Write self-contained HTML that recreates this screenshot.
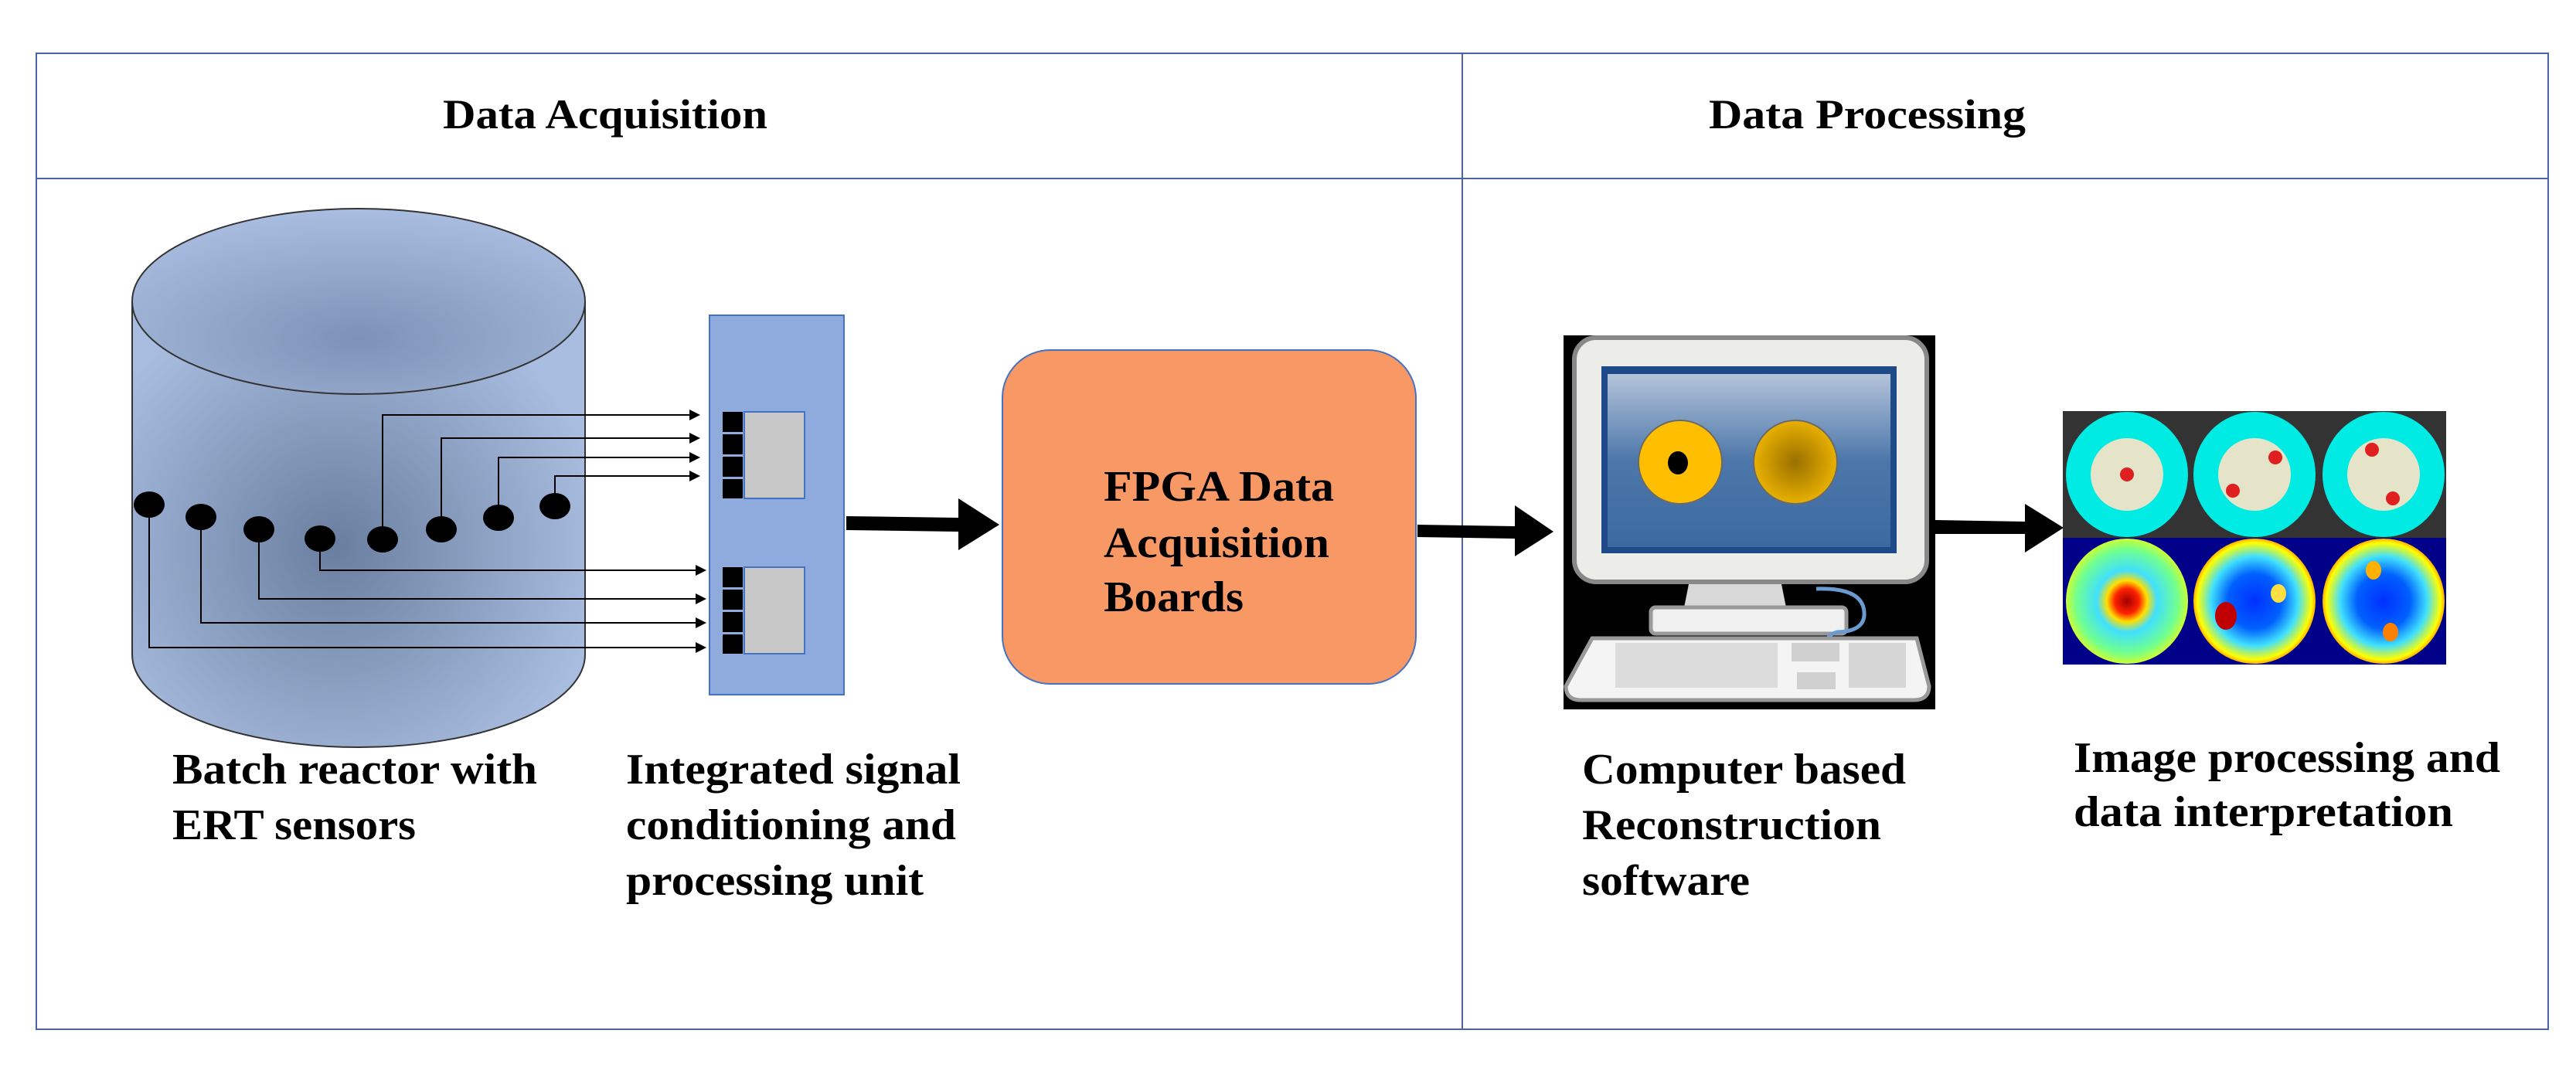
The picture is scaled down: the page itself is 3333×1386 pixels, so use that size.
<!DOCTYPE html>
<html><head><meta charset="utf-8"><style>html,body{margin:0;padding:0;background:#fff}svg{display:block}</style></head>
<body>
<svg width="3333" height="1386" viewBox="0 0 3333 1386" xmlns="http://www.w3.org/2000/svg" font-family="Liberation Serif, serif" font-weight="bold">
<defs>
<radialGradient id="cyl" cx="0.45" cy="0.55" r="0.6"><stop offset="0" stop-color="#6a7fa0"/><stop offset="1" stop-color="#a9bde0"/></radialGradient>
<radialGradient id="cylt" cx="0.5" cy="0.7" r="0.7"><stop offset="0" stop-color="#7d92b6"/><stop offset="1" stop-color="#a9bde0"/></radialGradient>
<linearGradient id="scr" x1="0" y1="0" x2="0" y2="1"><stop offset="0" stop-color="#b4c4da"/><stop offset="0.5" stop-color="#4c77aa"/><stop offset="1" stop-color="#3c6aa0"/></linearGradient>
<radialGradient id="y2"><stop offset="0" stop-color="#9a7000"/><stop offset="1" stop-color="#e8b000"/></radialGradient>
<radialGradient id="h1" cx="0.5" cy="0.5" r="0.55"><stop offset="0" stop-color="#a00000"/><stop offset="0.18" stop-color="#ff2000"/><stop offset="0.3" stop-color="#ffe000"/><stop offset="0.45" stop-color="#40e0ff"/><stop offset="0.75" stop-color="#70ff90"/><stop offset="1" stop-color="#ffff00"/></radialGradient>
<radialGradient id="h2" cx="0.5" cy="0.5" r="0.55"><stop offset="0" stop-color="#0030ff"/><stop offset="0.4" stop-color="#0060ff"/><stop offset="0.65" stop-color="#40e0ff"/><stop offset="0.85" stop-color="#ffff00"/><stop offset="1" stop-color="#ff3000"/></radialGradient>
</defs>
<rect x="47" y="69" width="3250" height="1263" fill="none" stroke="#4a62a8" stroke-width="2"/>
<line x1="47" y1="231" x2="3297" y2="231" stroke="#4a62a8" stroke-width="2"/>
<line x1="1892" y1="69" x2="1892" y2="1332" stroke="#4a62a8" stroke-width="2"/>
<g font-size="54" fill="#000">
<text x="573" y="166" textLength="420" lengthAdjust="spacingAndGlyphs">Data Acquisition</text>
<text x="2211" y="166" textLength="410" lengthAdjust="spacingAndGlyphs">Data Processing</text>
</g>
<!-- cylinder -->
<path d="M171 390 L171 847 A293 120 0 0 0 757 847 L757 390 Z" fill="url(#cyl)" stroke="#333" stroke-width="2"/>
<ellipse cx="464" cy="390" rx="293" ry="120" fill="url(#cylt)" stroke="#333" stroke-width="2"/>
<!-- panel -->
<rect x="918" y="408" width="174" height="491" fill="#8faadc" stroke="#4472c4" stroke-width="2"/>
<rect x="963" y="533" width="78" height="112" fill="#c8c8c8" stroke="#4472c4" stroke-width="2"/>
<rect x="963" y="734" width="78" height="112" fill="#c8c8c8" stroke="#4472c4" stroke-width="2"/>
<g fill="#000">
<rect x="935" y="533" width="26" height="26"/><rect x="935" y="562" width="26" height="26"/><rect x="935" y="591" width="26" height="26"/><rect x="935" y="620" width="26" height="25"/>
<rect x="935" y="734" width="26" height="26"/><rect x="935" y="763" width="26" height="26"/><rect x="935" y="792" width="26" height="26"/><rect x="935" y="821" width="26" height="25"/>
</g>
<!-- wires -->
<g fill="none" stroke="#000" stroke-width="2">
<path d="M495 698 V537 H900"/><path d="M571 685 V567 H900"/><path d="M645 670 V592 H900"/><path d="M718 655 V616 H900"/>
<path d="M414 697 V738 H908"/><path d="M335 685 V775 H908"/><path d="M260 669 V806 H908"/><path d="M193 653 V838 H908"/>
</g>
<g fill="#000">
<path d="M906 537 l-14 -7 v14z"/><path d="M906 567 l-14 -7 v14z"/><path d="M906 592 l-14 -7 v14z"/><path d="M906 616 l-14 -7 v14z"/>
<path d="M914 738 l-14 -7 v14z"/><path d="M914 775 l-14 -7 v14z"/><path d="M914 806 l-14 -7 v14z"/><path d="M914 838 l-14 -7 v14z"/>
<ellipse cx="193" cy="653" rx="20" ry="17"/><ellipse cx="260" cy="669" rx="20" ry="17"/><ellipse cx="335" cy="685" rx="20" ry="17"/><ellipse cx="414" cy="697" rx="20" ry="17"/>
<ellipse cx="495" cy="698" rx="20" ry="17"/><ellipse cx="571" cy="685" rx="20" ry="17"/><ellipse cx="645" cy="670" rx="20" ry="17"/><ellipse cx="718" cy="655" rx="20" ry="17"/>
</g>
<!-- thick arrows -->
<g fill="#000">
<path d="M1095 668 L1240 670 L1240 645 L1293 679 L1240 712 L1240 688 L1095 686 Z"/>
<path d="M1834 679 L1960 681 L1960 654 L2010 688 L1960 720 L1960 697 L1834 695 Z"/>
<path d="M2504 673 L2620 675 L2620 652 L2670 683 L2620 715 L2620 691 L2504 691 Z"/>
</g>
<!-- FPGA -->
<rect x="1297" y="453" width="535" height="432" rx="62" fill="#f79865" stroke="#4472c4" stroke-width="2"/>
<g font-size="56">
<text x="1428" y="648" textLength="298" lengthAdjust="spacingAndGlyphs">FPGA Data</text>
<text x="1428" y="721" textLength="292" lengthAdjust="spacingAndGlyphs">Acquisition</text>
<text x="1428" y="791" textLength="181" lengthAdjust="spacingAndGlyphs">Boards</text>
</g>
<!-- computer -->
<rect x="2023" y="434" width="481" height="484" fill="#000"/>
<rect x="2037" y="437" width="456" height="316" rx="28" fill="#ecece8" stroke="#888" stroke-width="6"/>
<rect x="2072" y="474" width="382" height="242" fill="#1e4a8a"/>
<rect x="2080" y="484" width="366" height="224" fill="url(#scr)"/>
<circle cx="2174" cy="598" r="54" fill="#ffbe00" stroke="#6a6a6a" stroke-width="2"/>
<ellipse cx="2171" cy="599" rx="13" ry="15" fill="#000"/>
<circle cx="2323" cy="598" r="54" fill="url(#y2)" stroke="#6a6a6a" stroke-width="2"/>
<path d="M2185 756 h120 l6 30 h-132z" fill="#d8d8d8"/>
<rect x="2136" y="786" width="253" height="34" rx="6" fill="#f0f0f0" stroke="#999" stroke-width="5"/>
<path d="M2350 762 q60 -2 62 30 q2 25 -35 26 q-20 5 -12 30" fill="none" stroke="#6a9ad0" stroke-width="5"/>
<path d="M2060 826 h420 l16 62 q0 18 -20 18 h-430 q-20 0 -20 -18z" fill="#f4f4f4" stroke="#999" stroke-width="5"/>
<rect x="2090" y="832" width="210" height="58" fill="#dcdcdc"/>
<rect x="2318" y="832" width="62" height="24" fill="#d0d0d0"/>
<rect x="2325" y="870" width="50" height="22" fill="#d0d0d0"/>
<rect x="2392" y="832" width="74" height="58" fill="#d6d6d6"/>
<!-- tomography images -->
<rect x="2669" y="532" width="496" height="164" fill="#333"/>
<rect x="2669" y="696" width="496" height="164" fill="#000088"/>
<g fill="#00ebe4"><ellipse cx="2752" cy="614" rx="79" ry="81"/><ellipse cx="2917" cy="614" rx="79" ry="81"/><ellipse cx="3084" cy="614" rx="79" ry="81"/></g>
<g fill="#e6e4c8"><ellipse cx="2752" cy="614" rx="47" ry="47"/><ellipse cx="2917" cy="614" rx="47" ry="47"/><ellipse cx="3084" cy="614" rx="47" ry="47"/></g>
<g fill="#e02020"><ellipse cx="2752" cy="614" rx="9" ry="9"/><ellipse cx="2944" cy="592" rx="9" ry="9"/><ellipse cx="2889" cy="635" rx="9" ry="9"/><ellipse cx="3069" cy="582" rx="9" ry="9"/><ellipse cx="3096" cy="645" rx="9" ry="9"/></g>
<ellipse cx="2752" cy="778" rx="79" ry="81" fill="url(#h1)"/>
<ellipse cx="2917" cy="778" rx="79" ry="81" fill="url(#h2)"/>
<ellipse cx="3084" cy="778" rx="79" ry="81" fill="url(#h2)"/>
<ellipse cx="2880" cy="797" rx="14" ry="18" fill="#c00000"/>
<ellipse cx="2948" cy="768" rx="10" ry="12" fill="#ffe040"/>
<ellipse cx="3071" cy="738" rx="10" ry="12" fill="#ffb000"/>
<ellipse cx="3093" cy="818" rx="10" ry="12" fill="#ff8000"/>
<!-- labels -->
<g font-size="56">
<text x="223" y="1014" textLength="472" lengthAdjust="spacingAndGlyphs">Batch reactor with</text>
<text x="223" y="1086" textLength="315" lengthAdjust="spacingAndGlyphs">ERT sensors</text>
<text x="810" y="1014" textLength="433" lengthAdjust="spacingAndGlyphs">Integrated signal</text>
<text x="810" y="1086" textLength="427" lengthAdjust="spacingAndGlyphs">conditioning and</text>
<text x="810" y="1158" textLength="385" lengthAdjust="spacingAndGlyphs">processing unit</text>
<text x="2047" y="1014" textLength="419" lengthAdjust="spacingAndGlyphs">Computer based</text>
<text x="2047" y="1086" textLength="387" lengthAdjust="spacingAndGlyphs">Reconstruction</text>
<text x="2047" y="1158" textLength="217" lengthAdjust="spacingAndGlyphs">software</text>
<text x="2683" y="999" textLength="552" lengthAdjust="spacingAndGlyphs">Image processing and</text>
<text x="2683" y="1069" textLength="491" lengthAdjust="spacingAndGlyphs">data interpretation</text>
</g>
</svg>
</body></html>
